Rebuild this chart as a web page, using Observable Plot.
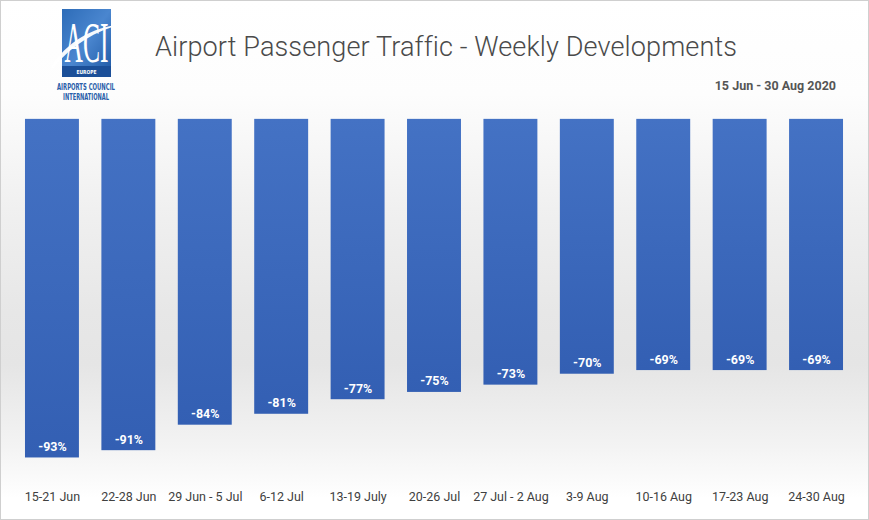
<!DOCTYPE html>
<html>
<head>
<meta charset="utf-8">
<script src="https://cdn.jsdelivr.net/npm/d3@7"></script>
<script src="https://cdn.jsdelivr.net/npm/@observablehq/plot@0.6"></script>
<style>
  html, body { margin: 0; padding: 0; background: #fff; }
  #wrap {
    position: relative; width: 869px; height: 520px; overflow: hidden; box-sizing: border-box;
    border: 1px solid #cfcfcf;
    background: linear-gradient(to bottom, #ffffff 0%, #fdfdfd 18%, #f0f0f0 40%, #e7e7e7 60%, #e5e5e5 70%, #f3f3f3 86%, #ffffff 96%, #ffffff 100%);
    font-family: Roboto, "Open Sans", sans-serif;
  }
  #chart { position: absolute; left: -1px; top: -1px; }
  #title { position: absolute; left: 154px; top: 30px; font-size: 27.1px; color: #4a4a4a; font-weight: 300; letter-spacing: 0.1px; white-space: nowrap; }
  #subtitle { position: absolute; right: 32px; top: 77px; font-size: 12.5px; color: #555; font-weight: 700; white-space: nowrap; }
  #logo { position: absolute; left: -1px; top: -1px; }
</style>
</head>
<body>
<div id="wrap">
  <svg id="logo" width="140" height="115" viewBox="0 0 140 115">
    <defs>
      <linearGradient id="lg" x1="0" y1="0" x2="1" y2="1">
        <stop offset="0" stop-color="#2d6cb8"/>
        <stop offset="0.5" stop-color="#4a86cf"/>
        <stop offset="1" stop-color="#1d57a3"/>
      </linearGradient>
    </defs>
    <rect x="62" y="9" width="49" height="68" fill="url(#lg)"/>
    <rect x="62" y="66" width="49" height="11" fill="#1b4f98"/>
    <g transform="translate(86.5,62) scale(1,1.45)">
      <text x="0" y="0" text-anchor="middle" fill="#fff" font-family="Liberation Serif, serif" font-size="40" textLength="44" lengthAdjust="spacingAndGlyphs">ACI</text>
    </g>
    <path d="M51,68 C66,42 92,27 123,24 C96,30 72,45 53,68 Z" fill="#fff" opacity="0.95"/>
    <text x="86.5" y="74" text-anchor="middle" fill="#fff" font-family="DejaVu Sans Condensed, DejaVu Sans, sans-serif" font-weight="700" font-size="5.5" textLength="20" lengthAdjust="spacingAndGlyphs">EUROPE</text>
    <text x="86" y="90" text-anchor="middle" fill="#2a5ea9" font-family="DejaVu Sans Condensed, DejaVu Sans, sans-serif" font-weight="700" font-size="8.5" textLength="58" lengthAdjust="spacingAndGlyphs">AIRPORTS COUNCIL</text>
    <text x="86" y="100" text-anchor="middle" fill="#2a5ea9" font-family="DejaVu Sans Condensed, DejaVu Sans, sans-serif" font-weight="700" font-size="8.5" textLength="46" lengthAdjust="spacingAndGlyphs">INTERNATIONAL</text>
  </svg>
  <div id="title">Airport Passenger Traffic - Weekly Developments</div>
  <div id="subtitle">15 Jun - 30 Aug 2020</div>
  <div id="chart"></div>
</div>
<script>
const weeks = ["15-21 Jun", "22-28 Jun", "29 Jun - 5 Jul", "6-12 Jul", "13-19 July", "20-26 Jul", "27 Jul - 2 Aug", "3-9 Aug", "10-16 Aug", "17-23 Aug", "24-30 Aug"];
const changes = [-93, -91, -84, -81, -77, -75, -73, -70, -69, -69, -69];

const data = weeks.map((w, i) => ({week: w, value: changes[i]}));

const chart = Plot.plot({
  width: 869,
  height: 520,
  marginLeft: 25,
  marginRight: 25,
  marginTop: 119,
  marginBottom: 62,
  style: {background: "transparent", fontFamily: "Roboto, 'Open Sans', sans-serif", overflow: "visible"},
  x: {domain: weeks, paddingInner: 0.294, paddingOuter: 0, round: false, label: null},
  y: {domain: [-93, 0], axis: null},
  marks: [
    Plot.barY(data, {x: "week", y1: 0, y2: "value", fill: "url(#barGrad)", style: "filter: drop-shadow(2px 2px 1.5px rgba(0,0,0,0.35))"}),
    Plot.text(data, {x: "week", y: "value", text: d => d.value + "%", dy: -11, fill: "white", fontWeight: 700, fontSize: 12.5}),
    Plot.axisX({tickSize: 0, tickPadding: 34, fontSize: 12.5, color: "#404040", label: null})
  ]
});

const defs = document.createElementNS("http://www.w3.org/2000/svg", "defs");
defs.innerHTML = '<linearGradient id="barGrad" x1="0" y1="0" x2="0" y2="1"><stop offset="0" stop-color="#4472c4"/><stop offset="1" stop-color="#335fb3"/></linearGradient>';
chart.insertBefore(defs, chart.firstChild);
document.getElementById("chart").appendChild(chart);
</script>
</body>
</html>
